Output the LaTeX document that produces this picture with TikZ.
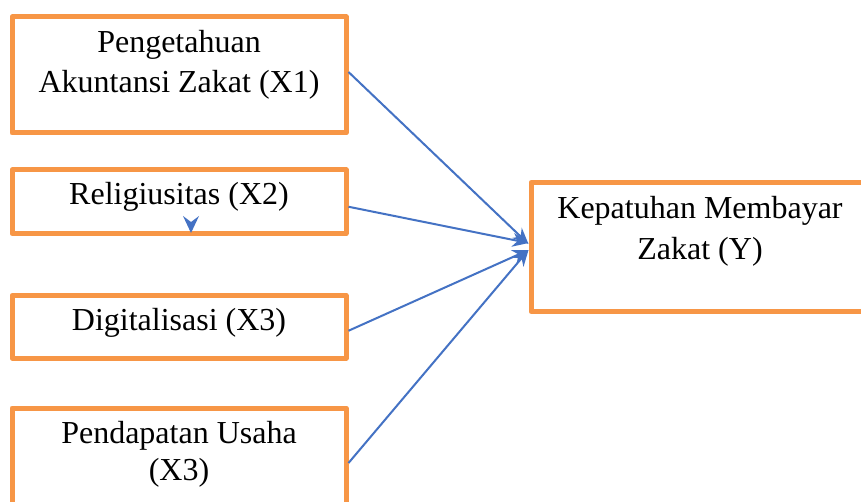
\documentclass[tikz,border=0pt]{standalone}
\usepackage{fontspec}
\setmainfont{Liberation Serif}
\usetikzlibrary{arrows.meta}
\definecolor{boxorange}{HTML}{F79646}
\definecolor{lineblue}{HTML}{4472C4}
\tikzset{
  varbox/.style={draw=boxorange, line width=2.5pt, line join=round, rectangle, inner sep=0pt, fill=none},
  lbl/.style={inner sep=0pt, font=\fontsize{16}{20}\selectfont, text=black, align=center},
  link/.style={draw=lineblue, line width=1pt, -{Stealth[length=8pt,width=7pt]}}
}
\begin{document}
\begin{tikzpicture}[x=0.5pt,y=-0.5pt]
\useasboundingbox (0,0) rectangle (861,502);
\clip (0,0) rectangle (861,502);
\fill[white] (0,0) rectangle (861,502);
% boxes
\node[varbox, minimum width=167pt, minimum height=58pt] (x1) at (179,75) {};
\node[varbox, minimum width=167pt, minimum height=31.75pt] (x2) at (179,201.75) {};
\node[varbox, minimum width=167pt, minimum height=31.25pt] (x3) at (179,326.75) {};
\node[varbox, minimum width=167pt, minimum height=66pt] (x4) at (179,474) {};
\node[varbox, minimum width=175pt, minimum height=64.5pt] (y) at (706,247) {};
% labels
\node[lbl] (t1a) at (179,45) {Pengetahuan};
\node[lbl] (t1b) at (179,85) {Akuntansi Zakat (X1)};
\node[lbl] (t2) at (179,197) {Religiusitas (X2)};
\node[lbl] (t3) at (179,323) {Digitalisasi (X3)};
\node[lbl] (t4a) at (179,436) {Pendapatan Usaha};
\node[lbl] (t4b) at (179,473) {(X3)};
\node[lbl] (tya) at (700,211) {Kepatuhan Membayar};
\node[lbl] (tyb) at (700,252) {Zakat (Y)};
% connector end points
\coordinate (s1) at ([yshift=1.5pt]x1.east);
\coordinate (s2) at ([yshift=-2.5pt]x2.east);
\coordinate (s3) at ([yshift=-2pt]x3.east);
\coordinate (s4) at ([yshift=5.5pt]x4.east);
\coordinate (e1) at ([yshift=1.5pt]y.west);
\coordinate (e2) at ([yshift=2pt]y.west);
\coordinate (e3) at ([yshift=-1.5pt]y.west);
\coordinate (e4) at ([yshift=-1.5pt]y.west);
\draw[link] (s1) -- (e1);
\draw[link] (s2) -- (e2);
\draw[link] (s3) -- (e3);
\draw[link] (s4) -- (e4);
% stray arrow tip
\fill[lineblue] (191,233) -- (183,216) -- (191,222) -- (199,216) -- cycle;
\end{tikzpicture}
\end{document}
